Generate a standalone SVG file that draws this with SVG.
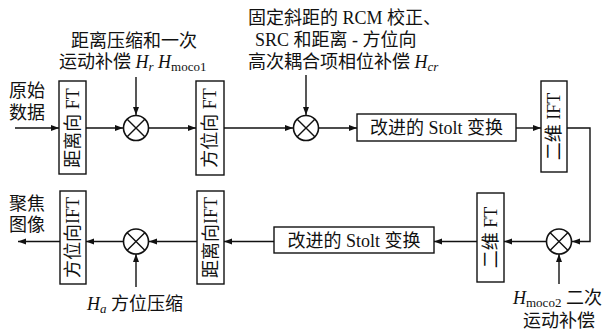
<svg xmlns="http://www.w3.org/2000/svg" width="605" height="333" viewBox="0 0 605 333">
<style>
.t{font-family:"Liberation Serif","Noto Sans CJK SC",serif;font-size:18px;fill:#111}
.i{font-style:italic}
.box{fill:#fff;stroke:#111;stroke-width:1.4}
.ln{fill:none;stroke:#111;stroke-width:1.4}
.c{fill:#fff;stroke:#111;stroke-width:1.6}
</style>
<defs>
<marker id="ar" markerUnits="userSpaceOnUse" markerWidth="9" markerHeight="7" refX="8" refY="3.5" orient="auto">
<path d="M0,0.5 L8,3.5 L0,6.5 z" fill="#111"/>
</marker>
</defs>
<g id="connectors">
<line class="ln" x1="15" y1="128" x2="59" y2="128" marker-end="url(#ar)"/>
<line class="ln" x1="86" y1="128" x2="123" y2="128" marker-end="url(#ar)"/>
<line class="ln" x1="136" y1="77" x2="136" y2="115" marker-end="url(#ar)"/>
<line class="ln" x1="149" y1="128" x2="196" y2="128" marker-end="url(#ar)"/>
<line class="ln" x1="224" y1="128" x2="293" y2="128" marker-end="url(#ar)"/>
<line class="ln" x1="306" y1="75" x2="306" y2="115" marker-end="url(#ar)"/>
<line class="ln" x1="319" y1="128" x2="357" y2="128" marker-end="url(#ar)"/>
<line class="ln" x1="516" y1="128" x2="541" y2="128" marker-end="url(#ar)"/>
<polyline class="ln" points="567,128 590,128 590,241.5 572,241.5" marker-end="url(#ar)"/>
<line class="ln" x1="546" y1="241.5" x2="504" y2="241.5" marker-end="url(#ar)"/>
<line class="ln" x1="477" y1="241.5" x2="434" y2="241.5" marker-end="url(#ar)"/>
<line class="ln" x1="274" y1="241.5" x2="224" y2="241.5" marker-end="url(#ar)"/>
<line class="ln" x1="197" y1="241.5" x2="149" y2="241.5" marker-end="url(#ar)"/>
<line class="ln" x1="123" y1="241.5" x2="86" y2="241.5" marker-end="url(#ar)"/>
<line class="ln" x1="60" y1="241.5" x2="18" y2="241.5" marker-end="url(#ar)"/>
<line class="ln" x1="136" y1="287" x2="136" y2="254" marker-end="url(#ar)"/>
<line class="ln" x1="559" y1="284" x2="559" y2="254" marker-end="url(#ar)"/>
</g>
<g id="input-label">
<text class="t" x="9" y="97">原始</text>
<text class="t" x="9" y="119">数据</text>
</g>
<g id="output-label">
<text class="t" x="9" y="210">聚焦</text>
<text class="t" x="9" y="231">图像</text>
</g>
<g id="label-hr">
<text class="t" x="71" y="47">距离压缩和一次</text>
<text class="t" x="59" y="68">运动补偿 <tspan class="i">H</tspan><tspan class="i" font-size="13" dy="3">r</tspan><tspan dy="-3"> </tspan><tspan class="i">H</tspan><tspan font-size="13" dy="3">moco1</tspan></text>
</g>
<g id="label-hcr">
<text class="t" x="248" y="24">固定斜距的 RCM 校正、</text>
<text class="t" x="255" y="46">SRC 和距离 - 方位向</text>
<text class="t" x="248" y="68">高次耦合项相位补偿 <tspan class="i">H</tspan><tspan class="i" font-size="13" dy="3">cr</tspan></text>
</g>
<g id="label-ha">
<text class="t" x="87" y="310"><tspan class="i">H</tspan><tspan class="i" font-size="13" dy="3">a</tspan><tspan dy="-3"> 方位压缩</tspan></text>
</g>
<g id="label-hmoco2">
<text class="t" x="513" y="304"><tspan class="i">H</tspan><tspan font-size="13" dy="3">moco2</tspan><tspan dy="-3"> 二次</tspan></text>
<text class="t" x="523" y="327">运动补偿</text>
</g>
<g id="range-ft">
<rect class="box" x="59" y="81" width="27" height="93"/>
<text class="t" transform="translate(72.5,128) rotate(-90)" text-anchor="middle" y="6">距离向 FT</text>
</g>
<g id="mult1">
<circle class="c" cx="136" cy="128" r="12.5"/>
<path class="ln" d="M127.2,119.2 L144.8,136.8 M144.8,119.2 L127.2,136.8"/>
</g>
<g id="azimuth-ft">
<rect class="box" x="196" y="81" width="28" height="94"/>
<text class="t" transform="translate(210,128) rotate(-90)" text-anchor="middle" y="6">方位向 FT</text>
</g>
<g id="mult2">
<circle class="c" cx="306" cy="128" r="12.5"/>
<path class="ln" d="M297.2,119.2 L314.8,136.8 M314.8,119.2 L297.2,136.8"/>
</g>
<g id="stolt1">
<rect class="box" x="357" y="114" width="159" height="27"/>
<text class="t" x="436.5" y="134" text-anchor="middle">改进的 Stolt 变换</text>
</g>
<g id="ifft2d">
<rect class="box" x="541" y="81" width="26" height="91"/>
<text class="t" transform="translate(554,126.5) rotate(-90)" text-anchor="middle" y="6">二维 IFT</text>
</g>
<g id="mult3">
<circle class="c" cx="559" cy="241.5" r="12.5"/>
<path class="ln" d="M550.2,232.7 L567.8,250.3 M567.8,232.7 L550.2,250.3"/>
</g>
<g id="fft2d">
<rect class="box" x="477" y="193" width="27" height="89"/>
<text class="t" transform="translate(490.5,237.5) rotate(-90)" text-anchor="middle" y="6">二维 FT</text>
</g>
<g id="stolt2">
<rect class="box" x="274" y="227" width="160" height="26"/>
<text class="t" x="354" y="247" text-anchor="middle">改进的 Stolt 变换</text>
</g>
<g id="range-ift">
<rect class="box" x="197" y="191" width="27" height="93"/>
<text class="t" transform="translate(210.5,237.5) rotate(-90)" text-anchor="middle" y="6">距离向IFT</text>
</g>
<g id="mult4">
<circle class="c" cx="136" cy="241.5" r="12.5"/>
<path class="ln" d="M127.2,232.7 L144.8,250.3 M144.8,232.7 L127.2,250.3"/>
</g>
<g id="azimuth-ift">
<rect class="box" x="60" y="191" width="26" height="93"/>
<text class="t" transform="translate(73,237.5) rotate(-90)" text-anchor="middle" y="6">方位向IFT</text>
</g>
</svg>
